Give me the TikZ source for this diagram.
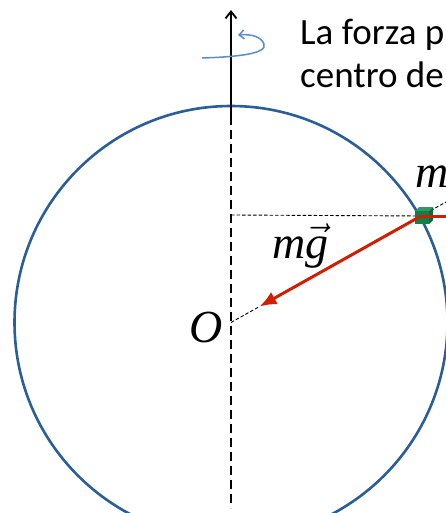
\RequirePackage{fix-cm}
\documentclass[tikz,border=0pt]{standalone}
\usepackage{fontspec}
\newfontfamily\calib{Carlito}
\newfontfamily\tnr{Liberation Serif}
\usetikzlibrary{arrows.meta,calc}
\definecolor{circblue}{RGB}{42,94,152}
\definecolor{rotblue}{RGB}{91,140,205}
\definecolor{fred}{RGB}{210,30,0}
\definecolor{gfront}{RGB}{16,128,72}
\definecolor{gtop}{RGB}{52,150,102}
\definecolor{gside}{RGB}{10,105,58}
\tikzset{
  axisline/.style={black, line width=1.8pt},
  thindash/.style={black, line width=0.9pt, dash pattern=on 3.5pt off 2pt},
  forcevec/.style={fred, line width=3pt},
  mathlab/.style={inner sep=0pt, anchor=base west, font=\tnr\itshape\fontsize{46}{50}\selectfont},
  txtlab/.style={inner sep=0pt, anchor=base west, font=\calib\fontsize{37}{44}\selectfont},
}
\begin{document}
\begin{tikzpicture}[x=1pt,y=-1pt]
\useasboundingbox (0,0) rectangle (446,513);
\clip (0,0) rectangle (446,513);
% key points
\coordinate (O) at (231,322.5);
\coordinate (M) at (421,216);
\coordinate (Atop) at (231,10);
\coordinate (Amid) at (231,116);
\coordinate (Abot) at (231,508);
\coordinate (H) at (231,215);
\coordinate (R) at (470,216);
\coordinate (T) at ($(O)!0.15!(M)$);
\coordinate (E) at ($(O)!1.3!(M)$);
% circle
\draw[circblue, line width=2.6pt] (O) circle[radius=216.5];
% rotation axis
\draw[axisline, -{Straight Barb[length=7pt,width=11pt]}] (Amid) -- (Atop);
\draw[axisline, dash pattern=on 9pt off 5pt] (Amid) -- (Abot);
% rotation arrow
\coordinate (r0) at (202,58);
\coordinate (r1) at (264,44);
\coordinate (r2) at (238,35);
\draw[rotblue, line width=1.5pt, -{Straight Barb[length=5pt,width=9pt]}]
  (r0) .. controls (235,57) and (268,54) .. (r1) .. controls (261,36) and (250,34) .. (r2);
% dashed guide lines
\draw[thindash] (H) -- (M);
\draw[thindash] (O) -- (T);
\draw[thindash] (M) -- (E);
% mass (small cube)
\fill[gtop] (415,211) -- (419,207) -- (433,207) -- (429,211) -- cycle;
\fill[gside] (429,211) -- (433,207) -- (433,220) -- (429,224) -- cycle;
\fill[gfront] (415,211) rectangle (429,224);
% forces
\draw[forcevec] (M) -- (R);
\draw[forcevec, -{Latex[length=17pt,width=14pt]}] (M) -- (T);
% labels
\node[mathlab] (mlab) at (415,187) {m};
\node[mathlab] (mglab) at (272,258) {m$\vec{\hbox{\tnr\itshape g}}$};
\node[mathlab] (Olab) at (189,342) {O};
\node[txtlab] (t1) at (300,45) {La forza p};
\node[txtlab] (t2) at (300,88) {centro de};
\end{tikzpicture}
\end{document}
